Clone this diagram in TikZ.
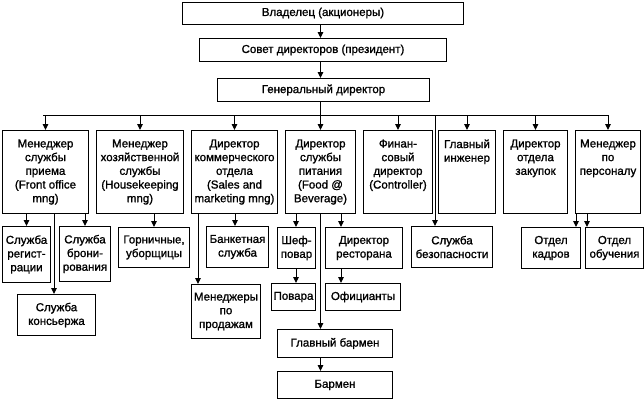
\documentclass[tikz,border=0pt]{standalone}
\usepackage{fontspec}
\setmainfont{Liberation Sans}[UprightFeatures={FakeBold=1.2}]
\usetikzlibrary{arrows.meta}
\newcommand\fsz{\fontsize{11.5}{13.7}\selectfont}
\newcommand\toptxt[2]{\parbox[c][83pt][t]{#1}{\centering\vspace*{9pt}#2}}
\tikzset{
  box/.style={draw, line width=1pt, inner sep=0pt, align=center, anchor=north west, font=\fsz},
  arr/.style={-{Triangle[length=6pt,width=5.5pt]}, line width=1pt},
  ln/.style={line width=1pt}
}
\begin{document}
\begin{tikzpicture}[x=1pt,y=-1pt]
\useasboundingbox (0,0) rectangle (644,400);
% top chain
\node[box, minimum width=281pt, minimum height=22pt] (own) at (182,1.5) {Владелец (акционеры)};
\node[box, minimum width=247pt, minimum height=23pt] (sov) at (199,38) {Совет директоров (президент)};
\node[box, minimum width=212pt, minimum height=23pt] (gen) at (217,78) {Генеральный директор};
% first row
\node[box, minimum width=86pt, minimum height=83pt] (b1) at (2,130) {\toptxt{84pt}{Менеджер\\службы\\приема\\(Front office\\mng)}};
\node[box, minimum width=87pt, minimum height=83pt] (b2) at (96,130) {\toptxt{85pt}{Менеджер\\хозяйственной\\службы\\(Housekeeping\\mng)}};
\node[box, minimum width=86pt, minimum height=83pt] (b3) at (191,130) {\toptxt{84pt}{Директор\\коммерческого\\отдела\\(Sales and\\marketing mng)}};
\node[box, minimum width=70pt, minimum height=83pt] (b4) at (285,130) {\toptxt{68pt}{Директор\\службы\\питания\\(Food @\\Beverage)}};
\node[box, minimum width=69pt, minimum height=83pt] (b5) at (363,130) {\toptxt{67pt}{Финан-\\совый\\директор\\(Controller)}};
\node[box, minimum width=57pt, minimum height=83pt] (b6) at (438,130) {\toptxt{55pt}{Главный\\инженер}};
\node[box, minimum width=64pt, minimum height=83pt] (b7) at (503,130) {\toptxt{62pt}{Директор\\отдела\\закупок}};
\node[box, minimum width=65pt, minimum height=83pt] (b8) at (575,130) {\toptxt{63pt}{Менеджер\\по\\персоналу}};
% second row
\node[box, minimum width=48pt, minimum height=56pt] (reg) at (2,226) {Служба\\регист-\\рации};
\node[box, minimum width=51pt, minimum height=55pt] (bron) at (59,226) {Служба\\брони-\\рования};
\node[box, minimum width=78pt, minimum height=41pt] (kons) at (17,294) {Служба\\консьержа};
\node[box, minimum width=71pt, minimum height=40pt] (gorn) at (118,227) {Горничные,\\уборщицы};
\node[box, minimum width=69pt, minimum height=54pt] (prod) at (191,284) {Менеджеры\\по\\продажам};
\node[box, minimum width=62pt, minimum height=41pt] (bank) at (206,226) {Банкетная\\служба};
\node[box, minimum width=38pt, minimum height=41pt] (shef) at (277,227) {Шеф-\\повар};
\node[box, minimum width=44pt, minimum height=27pt] (pov) at (271,283) {Повара};
\node[box, minimum width=77pt, minimum height=41pt] (rest) at (325,227) {Директор\\ресторана};
\node[box, minimum width=75pt, minimum height=27pt] (ofic) at (325,283) {Официанты};
\node[box, minimum width=115pt, minimum height=28pt] (glbar) at (277,329) {Главный бармен};
\node[box, minimum width=115pt, minimum height=27pt] (barm) at (277,371) {Бармен};
\node[box, minimum width=81pt, minimum height=41pt] (bez) at (411,226) {Служба\\безопасности};
\node[box, minimum width=59pt, minimum height=41pt] (kadr) at (521,227) {Отдел\\кадров};
\node[box, minimum width=58pt, minimum height=41pt] (obuch) at (585,227) {Отдел\\обучения};
% bus
\coordinate (busL) at (43,115);
\coordinate (busR) at (608,115);
\draw[ln] (busL) -- (busR);
% top arrows
\draw[arr] (own.south -| b4.north) -- (sov.north -| b4.north);
\draw[arr] (sov.south -| b4.north) -- (gen.north -| b4.north);
\draw[arr] (gen.south -| b4.north) -- (b4.north);
\draw[arr] (b1.north |- busL) -- (b1.north);
\draw[arr] (b2.north |- busL) -- (b2.north);
\draw[arr] (b3.north |- busL) -- (b3.north);
\draw[arr] (b5.north |- busL) -- (b5.north);
\draw[arr] (b6.north |- busL) -- (b6.north);
\draw[arr] (b7.north |- busL) -- (b7.north);
\draw[arr] (b8.north |- busL) -- (b8.north);
\draw[arr] (busL -| 435,0) -- (bez.north -| 435,0);
% second-level arrows
\draw[arr] (reg.north |- b1.south) -- (reg.north);
\draw[arr] (b1.south -| 85,0) -- (bron.north -| 85,0);
\draw[arr] (b1.south -| 54,0) -- (kons.north -| 54,0);
\draw[arr] (gorn.north |- b2.south) -- (gorn.north);
\draw[arr] (b3.south -| 198,0) -- (prod.north -| 198,0);
\draw[arr] (b3.south -| 235,0) -- (bank.north -| 235,0);
\draw[arr] (b4.south -| 296,0) -- (shef.north -| 296,0);
\draw[arr] (b4.south -| 341,0) -- (rest.north -| 341,0);
\draw[arr] (b4.south) -- (glbar.north -| b4.south);
\draw[arr] (shef.south -| 296,0) -- (pov.north -| 296,0);
\draw[arr] (rest.south -| 341,0) -- (ofic.north -| 341,0);
\draw[arr] (glbar.south -| b4.south) -- (barm.north -| b4.south);
\draw[arr] (b8.south -| 576,0) -- (kadr.north -| 576,0);
\draw[arr] (b8.south -| 587,0) -- (obuch.north -| 587,0);
\end{tikzpicture}
\end{document}
